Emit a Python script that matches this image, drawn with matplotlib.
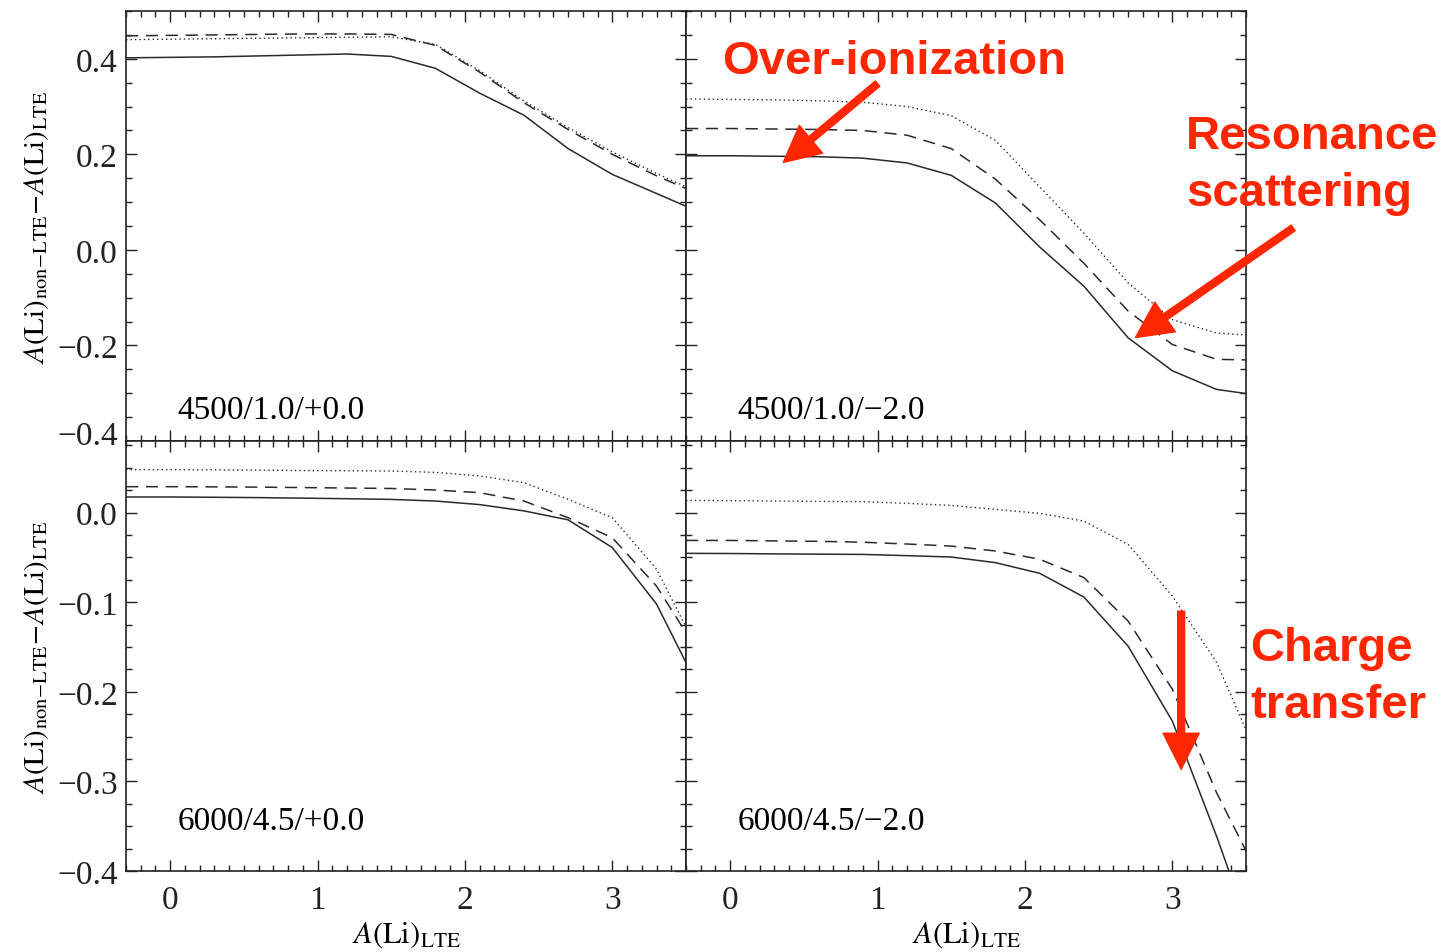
import matplotlib
matplotlib.use("Agg")
import matplotlib.pyplot as plt
import matplotlib.transforms as mtransforms
from matplotlib.ticker import MultipleLocator, FuncFormatter

plt.rcParams['font.family'] = ['Liberation Serif', 'DejaVu Serif']
plt.rcParams['mathtext.fontset'] = 'stix'

# ---------------- data ----------------
a_li_lte = [-0.3, 0.0, 0.3, 0.6, 0.9, 1.2, 1.5, 1.8, 2.1, 2.4, 2.7, 3.0, 3.3, 3.6]

# 4500/1.0/+0.0
tl_solid = [0.402, 0.403, 0.404, 0.406, 0.408, 0.410, 0.405, 0.380, 0.328, 0.282, 0.212, 0.158, 0.118, 0.078]
tl_dash = [0.448, 0.449, 0.450, 0.451, 0.452, 0.452, 0.451, 0.428, 0.372, 0.308, 0.252, 0.200, 0.155, 0.115]
tl_dot = [0.440, 0.441, 0.442, 0.443, 0.444, 0.445, 0.446, 0.430, 0.375, 0.312, 0.256, 0.205, 0.160, 0.118]

# 4500/1.0/-2.0
tr_solid = [0.197, 0.197, 0.196, 0.195, 0.192, 0.182, 0.156, 0.098, 0.006, -0.076, -0.184, -0.253, -0.292, -0.305]
tr_dash = [0.254, 0.254, 0.253, 0.252, 0.250, 0.240, 0.212, 0.148, 0.063, -0.028, -0.128, -0.198, -0.229, -0.231]
tr_dot = [0.316, 0.315, 0.314, 0.312, 0.309, 0.300, 0.281, 0.229, 0.132, 0.035, -0.069, -0.146, -0.174, -0.180]

# 6000/4.5/+0.0
bl_solid = [0.0175, 0.0175, 0.0172, 0.0168, 0.0162, 0.0156, 0.0148, 0.013, 0.009, 0.002, -0.008, -0.039, -0.102, -0.20]
bl_dash = [0.029, 0.029, 0.0288, 0.0285, 0.028, 0.0275, 0.027, 0.0253, 0.0223, 0.013, -0.0056, -0.028, -0.082, -0.16]
bl_dot = [0.048, 0.048, 0.0478, 0.0475, 0.047, 0.0468, 0.0465, 0.045, 0.041, 0.0335, 0.0149, -0.0056, -0.063, -0.16]

# 6000/4.5/-2.0
br_solid = [-0.0454, -0.0456, -0.046, -0.0463, -0.0466, -0.048, -0.0495, -0.0558, -0.0677, -0.0942, -0.149, -0.2326, -0.361, -0.50]
br_dash = [-0.031, -0.031, -0.0315, -0.032, -0.033, -0.035, -0.0373, -0.0428, -0.052, -0.0725, -0.121, -0.197, -0.3125, -0.41]
br_dot = [0.0137, 0.0134, 0.013, 0.0126, 0.0122, 0.0104, 0.0081, 0.0037, -0.0008, -0.0094, -0.0354, -0.093, -0.167, -0.28]

panel_labels = ["4500/1.0/+0.0", "4500/1.0/\u22122.0", "6000/4.5/+0.0", "6000/4.5/\u22122.0"]
series = [(tl_solid, tl_dash, tl_dot), (tr_solid, tr_dash, tr_dot),
          (bl_solid, bl_dash, bl_dot), (br_solid, br_dash, br_dot)]
top_yticks = [-0.4, -0.2, 0.0, 0.2, 0.4]
bottom_yticks = [-0.4, -0.3, -0.2, -0.1, 0.0]

# ---------------- figure ----------------
W, H = 1447, 953
fig = plt.figure(figsize=(W / 100, H / 100), dpi=100)

def ax_rect(x0, y0, x1, y1):
    return [x0 / W, 1 - y1 / H, (x1 - x0) / W, (y1 - y0) / H]

rects = [ax_rect(126, 12, 686, 442), ax_rect(686, 12, 1246, 442),
         ax_rect(126, 442, 686, 872), ax_rect(686, 442, 1246, 872)]

ylabel = r'$A(\mathrm{Li})_{\mathrm{non\!-\!LTE}}\!-\!A(\mathrm{Li})_{\mathrm{LTE}}$'
xlabel = r'$A(\mathrm{Li})_{\mathrm{LTE}}$'
fmt = FuncFormatter(lambda v, p: ('%.1f' % v).replace('-', '\u2212') if abs(v) > 1e-9 else '0.0')

axes = []
for i, r in enumerate(rects):
    ax = fig.add_axes(r)
    axes.append(ax)
    s, d, o = series[i]
    ax.plot(a_li_lte, s, color='#2a2a2a', lw=1.1, ls='-')
    ax.plot(a_li_lte, d, color='#2a2a2a', lw=1.1, dashes=(8, 5))
    ax.plot(a_li_lte, o, color='#2a2a2a', lw=1.0, dashes=(1, 2.2))
    ax.set_xlim(-0.3, 3.5)
    ax.xaxis.set_major_locator(MultipleLocator(1))
    ax.xaxis.set_minor_locator(MultipleLocator(0.1))
    if i < 2:
        ax.set_ylim(-0.4, 0.5)
        ax.set_yticks(top_yticks)
        ax.yaxis.set_minor_locator(MultipleLocator(0.05))
    else:
        ax.set_ylim(-0.4, 0.08)
        ax.set_yticks(bottom_yticks)
        ax.yaxis.set_minor_locator(MultipleLocator(0.025))
    ax.yaxis.set_major_formatter(fmt)
    ax.tick_params(which='both', direction='in', top=True, right=True,
                   labelsize=24, width=1.0, colors='#222222')
    ax.tick_params(which='major', length=8)
    ax.tick_params(which='minor', length=4)
    ax.tick_params(axis='x', pad=10)
    ax.tick_params(axis='y', pad=6)
    for sp in ax.spines.values():
        sp.set_linewidth(1.2)
        sp.set_color('#222222')
    if i < 2:
        ax.tick_params(labelbottom=False)
    else:
        ax.set_xlabel(xlabel, fontsize=22, labelpad=3)
    if i % 2 == 1:
        ax.tick_params(labelleft=False)
    else:
        ax.set_ylabel(ylabel, fontsize=21, labelpad=4)
    ax.text(0.05, -0.335 if i < 2 else -0.344, panel_labels[i], fontsize=24, ha='left', va='center')

# raise the bottom "-0.4" label of the top-left panel slightly, as in the original
fig.canvas.draw()
lbl = axes[0].get_yticklabels()[0]
lbl.set_transform(lbl.get_transform() + mtransforms.ScaledTranslation(0, 6 / 72, fig.dpi_scale_trans))

# ---------------- annotations ----------------
red = '#ff2600'
afont = dict(family=['Liberation Sans', 'DejaVu Sans'], weight='bold', color=red, fontsize=34)
fig.text(722 / W, 1 - 74 / H, "Over-ionization", ha='left', va='baseline', **afont)
fig.text(1186 / W, 1 - 115 / H, "Resonance\nscattering", ha='left', va='top', linespacing=1.38, **afont)
fig.text(1250 / W, 1 - 627 / H, "Charge\ntransfer", ha='left', va='top', linespacing=1.38, **afont)

arrow = dict(arrowstyle='simple,head_length=2.6,head_width=2.6,tail_width=0.5',
             color=red, mutation_scale=10, shrinkA=0, shrinkB=0)
axes[1].annotate('', xy=(0.36, 0.183), xytext=(1.0, 0.348), arrowprops=arrow, annotation_clip=False)
axes[1].annotate('', xy=(2.75, -0.1835), xytext=(3.82, 0.046), arrowprops=arrow, annotation_clip=False)
axes[3].annotate('', xy=(3.06, -0.2865), xytext=(3.06, -0.110), arrowprops=arrow, annotation_clip=False)

fig.savefig('out.png', dpi=100)
